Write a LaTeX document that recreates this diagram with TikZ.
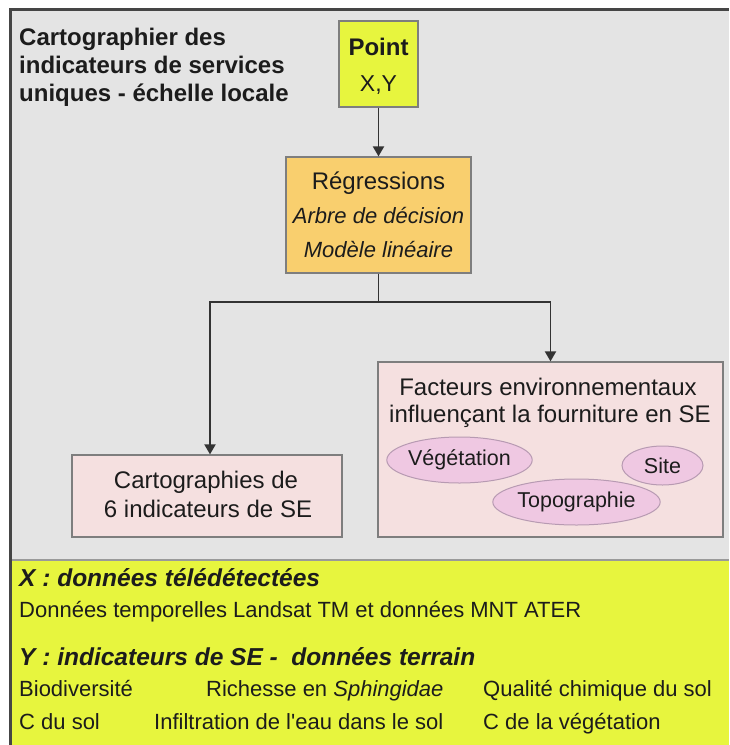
\documentclass[tikz,border=0pt]{standalone}
\usepackage{fontspec}
\setmainfont{Liberation Sans}
\usetikzlibrary{arrows.meta,shapes.geometric}
\definecolor{bggrey}{HTML}{E4E4E4}
\definecolor{yellowc}{HTML}{E7F53E}
\definecolor{orangec}{HTML}{F9CF6E}
\definecolor{pinkc}{HTML}{F5E0E0}
\definecolor{ellfill}{HTML}{EFC8E2}
\definecolor{ellline}{HTML}{B79AB2}
\definecolor{boxline}{HTML}{7E7E7E}
\definecolor{textc}{HTML}{1C1C1C}
\definecolor{arrowc}{HTML}{333333}
\definecolor{framec}{HTML}{454545}
\definecolor{dividerc}{HTML}{9A9A9A}
\begin{document}
\begin{tikzpicture}[x=1pt,y=-1pt,
  every node/.style={inner sep=0pt,text=textc},
  boxnode/.style={draw=boxline,line width=1.2pt,rectangle,minimum width=#1},
  ellnode/.style={draw=ellline,fill=ellfill,line width=1pt,ellipse,font=\fontsize{21.5}{26}\selectfont},
  conn/.style={draw=arrowc,line width=1.9pt,-{Triangle[length=10pt,width=11pt]}},
  bigbold/.style={font=\fontsize{24}{28}\selectfont\bfseries},
  bigreg/.style={font=\fontsize{24}{28}\selectfont},
  midital/.style={font=\fontsize{22}{26}\selectfont\itshape},
  botreg/.style={font=\fontsize{22}{26}\selectfont},
  botbi/.style={font=\fontsize{24.5}{28}\selectfont\bfseries\itshape}
]
\useasboundingbox (0,0) rectangle (729,745);
\fill[white] (0,0) rectangle (729,745);
\fill[bggrey] (10,9) rectangle (729,560);
\fill[yellowc] (10,560) rectangle (729,745);
\draw[dividerc,line width=2pt] (10,560) -- (729,560);
\draw[framec,line width=3pt] (10,745) -- (10,9) -- (729,9);

% title
\node[bigbold,anchor=base west] (t1) at (19,45) {Cartographier des};
\node[bigbold,anchor=base west] (t2) at (19,73) {indicateurs de services};
\node[bigbold,anchor=base west] (t3) at (19,101) {uniques - échelle locale};

% boxes
\node[boxnode=79pt,fill=yellowc,minimum height=86pt] (point) at (378.5,64) {};
\node[boxnode=185pt,fill=orangec,minimum height=116pt] (regr) at (378.5,215) {};
\node[boxnode=270pt,fill=pinkc,minimum height=82pt] (carto) at (207,496) {};
\node[boxnode=345pt,fill=pinkc,minimum height=175pt] (fact) at (550.5,449.5) {};

% box texts
\node[bigbold,anchor=base] (pointa) at (378.5,55) {Point};
\node[font=\fontsize{23}{28}\selectfont,anchor=base] (pointb) at (378.5,91) {X,Y};
\node[bigreg,anchor=base] (regra) at (378.5,189) {Régressions};
\node[midital,anchor=base] (regrb) at (378.5,223) {Arbre de décision};
\node[midital,anchor=base] (regrc) at (378.5,257) {Modèle linéaire};
\node[bigreg,anchor=base] (cartoa) at (206,488) {Cartographies de};
\node[bigreg,anchor=base] (cartob) at (208,517) {6 indicateurs de SE};
\node[bigreg,anchor=base] (facta) at (548,395) {Facteurs environnementaux};
\node[bigreg,anchor=base] (factb) at (550,422) {influençant la fourniture en SE};

% ellipses
\node[ellnode,minimum width=137pt,minimum height=46pt] (veg) at (459.5,460) {Végétation};
\node[ellnode,minimum width=81pt,minimum height=39pt] (site) at (662.5,465.5) {Site};
\node[ellnode,minimum width=147pt,minimum height=46pt] (topo) at (576.5,502) {Topographie};

% connectors
\draw[conn] (point.south) -- (regr.north);
\draw[conn] (regr.south) -- ++(0,28) -| ([xshift=3pt]carto.north);
\draw[conn] (regr.south) -- ++(0,28) -| (fact.north);

% bottom texts
\node[botbi,anchor=base west] (xl) at (19,586.5) {X : données télédétectées};
\node[botreg,anchor=base west] (xd) at (19,617) {Données temporelles Landsat TM et données MNT ATER};
\node[botbi,anchor=base west] (yl) at (19,665) {Y : indicateurs de SE -\ \ données terrain};
\node[botreg,anchor=base west] (y1) at (19,696.5) {Biodiversité};
\node[botreg,anchor=base west] (y2) at (206,696.5) {Richesse en \textit{Sphingidae}};
\node[botreg,anchor=base west] (y3) at (483,696.5) {Qualité chimique du sol};
\node[botreg,anchor=base west] (y4) at (19,729) {C du sol};
\node[botreg,anchor=base west] (y5) at (154,729) {Infiltration de l\textquotesingle eau dans le sol};
\node[botreg,anchor=base west] (y6) at (483,729) {C de la végétation};
\end{tikzpicture}
\end{document}
